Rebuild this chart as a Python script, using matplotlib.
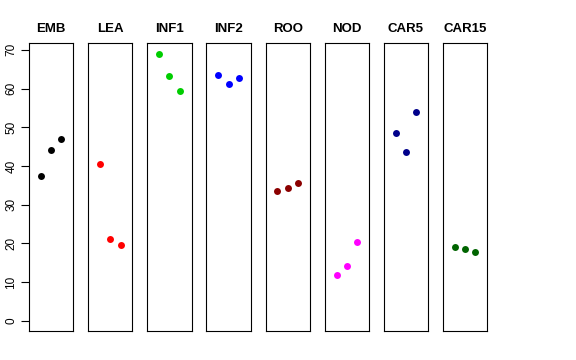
import matplotlib
matplotlib.use("Agg")
import matplotlib.pyplot as plt

plt.rcParams['font.family'] = ['Liberation Sans', 'DejaVu Sans']

# Samples per group
groups = ["EMB", "LEA", "INF1", "INF2", "ROO", "NOD", "CAR5", "CAR15"]
colors = ["black", "red", "#00CD00", "blue", "#8B0000", "magenta", "#00008B", "#006400"]
emb = [37.5, 44.1, 46.9]
lea = [40.6, 21.1, 19.5]
inf1 = [69.0, 63.3, 59.4]
inf2 = [63.6, 61.3, 62.8]
roo = [33.5, 34.4, 35.6]
nod = [11.8, 14.1, 20.3]
car5 = [48.5, 43.5, 54.0]
car15 = [19.1, 18.4, 17.8]
values = [emb, lea, inf1, inf2, roo, nod, car5, car15]
yticks = [0, 10, 20, 30, 40, 50, 60, 70]

fig = plt.figure(figsize=(5.76, 3.6), dpi=100)

W, H = 576, 360
left0, step, width = 29, 59.14, 44.3
bottom, top = 331, 43.3

for i, (name, vals, col) in enumerate(zip(groups, values, colors)):
    ax = fig.add_axes([(left0 + i * step) / W, 1 - bottom / H,
                       width / W, (bottom - top) / H])
    ax.plot([1, 2, 3], vals, 'o', color=col, markersize=5, markeredgewidth=0)
    ax.set_xlim(-0.16, 4.16)
    ax.set_ylim(-2.7, 71.7)
    ax.set_xticks([])
    ax.set_title(name, fontsize=9.5, fontweight='bold', pad=8)
    for s in ax.spines.values():
        s.set_linewidth(0.8)
    if i == 0:
        ax.set_yticks(yticks)
        ax.set_yticklabels([str(t) for t in yticks], rotation=90, va='center', fontsize=8.5)
        ax.tick_params(axis='y', length=5.5, width=0.8, pad=3)
    else:
        ax.set_yticks([])

fig.savefig("out.png", dpi=100)
